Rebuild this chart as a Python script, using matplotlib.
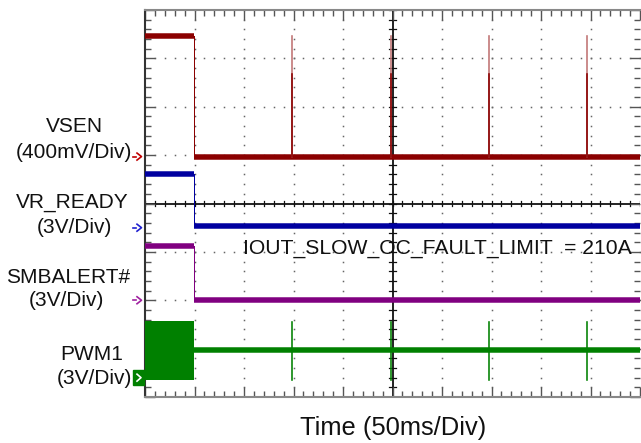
import numpy as np
import matplotlib
matplotlib.use("Agg")
import matplotlib.pyplot as plt
from matplotlib import transforms

W, H, DPI = 641, 443, 100

# ---- scope settings -------------------------------------------------------
ms_per_div = 50
n_xdiv, n_ydiv = 10, 8

channel_names = ["VSEN", "VR_READY", "SMBALERT#", "PWM1"]
channel_scales = ["(400mV/Div)", "(3V/Div)", "(3V/Div)", "(3V/Div)"]
volts_per_div = [0.4, 3.0, 3.0, 3.0]
channel_colors = ["#8b0000", "#0000a0", "#800080", "#008000"]
marker_colors = ["#c00000", "#2020d0", "#a020a0", "#008000"]

# ---- measured waveforms (ms / V) ------------------------------------------
fault_time_ms = 49.5
spike_times_ms = [148.5, 248.0, 347.2, 446.5]

vsen_levels_v = [1.0, 0.0]            # before / after the fault
vsen_spike_peak_v = 1.0
vsen_spike_core_v = 0.68
vr_ready_levels_v = [3.35, 0.1]
smbalert_levels_v = [3.37, 0.0]
pwm1_switching_range_v = [-0.15, 3.53]
pwm1_tristate_v = 1.71
pwm1_spike_range_v = [-0.15, 3.45]

annotation = "IOUT_SLOW_OC_FAULT_LIMIT  = 210A"
x_title = "Time (50ms/Div)"

# ground reference of each channel, in divisions from the bottom
ground_div = [4.97, 3.5, 2.0, 0.4]

plt.rcParams["font.family"] = ["Liberation Sans", "DejaVu Sans"]

fig = plt.figure(figsize=(W / DPI, H / DPI), dpi=DPI)
L, R, T, B = 145, 640, 10, 397
ax = fig.add_axes([L / W, 1 - B / H, (R - L) / W, (B - T) / H])
x_max = n_xdiv * ms_per_div
ax.set_xlim(0, x_max)
ax.set_ylim(0, n_ydiv)
px_per_pt = DPI / 72.0


def to_div(ch, v):
    return ground_div[ch] + np.asarray(v) / volts_per_div[ch]


# ---- graticule --------------------------------------------------------------
minor_x = np.arange(0, x_max + 1e-6, ms_per_div / 5)
minor_y = np.arange(0, n_ydiv + 1e-6, 0.2)
for k in range(1, n_xdiv):
    if k == n_xdiv // 2:
        continue
    ax.plot(np.full_like(minor_y, k * ms_per_div), minor_y, ls="none",
            marker="s", ms=1.1, mew=0, color="#666666", zorder=1)
for k in range(1, n_ydiv):
    if k == n_ydiv // 2:
        continue
    ax.plot(minor_x, np.full_like(minor_x, k), ls="none",
            marker="s", ms=1.1, mew=0, color="#666666", zorder=1)

cx, cy = x_max / 2, n_ydiv / 2
ax.axvline(cx, color="#111111", lw=1.3, zorder=1.5)
ax.axhline(cy, color="#111111", lw=1.3, zorder=1.5)
# cross ticks on the centre lines
tick_half_x = 3.5 / 49.5 * ms_per_div
tick_half_y = 3.0 / 48.4
for yy in minor_y:
    ax.plot([cx - tick_half_x, cx + tick_half_x], [yy, yy], color="#111111",
            lw=0.9, zorder=1.5)
for xx in minor_x:
    ax.plot([xx, xx], [cy - tick_half_y, cy + tick_half_y], color="#111111",
            lw=0.9, zorder=1.5)

# frame with inward ticks
ax.set_xticks(np.arange(0, x_max + 1, ms_per_div))
ax.set_xticks(minor_x, minor=True)
ax.set_yticks(np.arange(0, n_ydiv + 1))
ax.set_yticks(minor_y, minor=True)
ax.tick_params(which="both", direction="in", top=True, right=True,
               labelbottom=False, labelleft=False, color="#555555", width=1.0)
ax.tick_params(which="major", length=7)
ax.tick_params(which="minor", length=4)
for side, sp in ax.spines.items():
    sp.set_color("#888888" if side in ("top", "bottom") else "#333333")
    sp.set_linewidth(1.5)
ax.spines["right"].set_visible(False)

# ---- traces -----------------------------------------------------------------
band = 5.5 / px_per_pt
thin = 1.0 / px_per_pt
spike_w = 1.6 / px_per_pt


def step_trace(ch, levels):
    c = channel_colors[ch]
    y0, y1 = to_div(ch, levels)
    ax.plot([0, fault_time_ms], [y0, y0], color=c, lw=band,
            solid_capstyle="butt", zorder=3)
    ax.plot([fault_time_ms, x_max], [y1, y1], color=c, lw=band,
            solid_capstyle="butt", zorder=3)
    ax.plot([fault_time_ms, fault_time_ms], [y0, y1], color=c, lw=thin, zorder=3)


step_trace(0, vsen_levels_v)
step_trace(1, vr_ready_levels_v)
step_trace(2, smbalert_levels_v)

# VSEN spikes: faint tip above a darker core
base = to_div(0, vsen_levels_v[1])
for t in spike_times_ms:
    ax.plot([t, t], [base, to_div(0, vsen_spike_peak_v)], color="#c07272",
            lw=spike_w, zorder=3)
    ax.plot([t, t], [base, to_div(0, vsen_spike_core_v)], color=channel_colors[0],
            lw=spike_w, zorder=3.1)

# PWM1: switching burst, then tri-state with short pulses
g = channel_colors[3]
lo, hi = to_div(3, pwm1_switching_range_v)
ax.fill_between([0, fault_time_ms], lo, hi, color=g, lw=0, zorder=3)
ym = to_div(3, pwm1_tristate_v)
ax.plot([fault_time_ms, x_max], [ym, ym], color=g, lw=band,
        solid_capstyle="butt", zorder=3)
slo, shi = to_div(3, pwm1_spike_range_v)
for t in spike_times_ms:
    ax.plot([t, t], [slo, shi], color=g, lw=spike_w, zorder=3)

# ---- ground markers -----------------------------------------------------------
mk = transforms.blended_transform_factory(fig.transFigure, ax.transData)
ppx = 1.0 / W
ppy = 1.0 / 48.4
for ch in range(4):
    y = ground_div[ch]
    c = marker_colors[ch]
    if ch == 3:
        fig.patches.append(plt.Rectangle((133 * ppx, y - 7.5 * ppy), 11 * ppx, 15 * ppy,
                                         transform=mk, color=c, zorder=5))
        fig.lines.append(plt.Line2D([137 * ppx, 141 * ppx, 137 * ppx],
                                    [y + 3.5 * ppy, y, y - 3.5 * ppy], transform=mk,
                                    color="white", lw=1.2, zorder=6))
    else:
        fig.lines.append(plt.Line2D([133 * ppx, 136 * ppx], [y, y], transform=mk,
                                    color=c, lw=1.2, zorder=6))
        fig.lines.append(plt.Line2D([137 * ppx, 141.5 * ppx, 137 * ppx],
                                    [y + 3.5 * ppy, y, y - 3.5 * ppy], transform=mk,
                                    color=c, lw=1.2, zorder=6))

# ---- text -------------------------------------------------------------------
def ftext(x, y, s, size, ha="center"):
    fig.text(x / W, 1 - y / H, s, fontsize=size, ha=ha, va="baseline",
             color="#111111")


name_pos = [(74.5, 132), (72.5, 208), (68, 283), (91.7, 360)]
scale_pos = [(74, 158), (74, 233), (66.7, 306), (94.5, 384)]
for i in range(4):
    ftext(*name_pos[i], channel_names[i], 15)
    ftext(*scale_pos[i], channel_scales[i], 15)

ftext(243, 254, annotation, 15.2, ha="left")
ftext(393.5, 435, x_title, 18.4)

fig.savefig("out.png", dpi=DPI)
